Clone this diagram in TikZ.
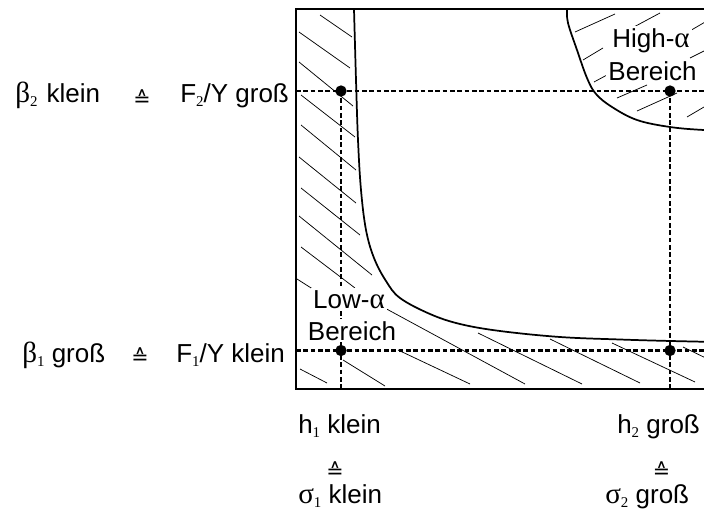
\documentclass[tikz,border=0pt]{standalone}
\usepackage{fontspec}
\setmainfont{Liberation Sans}
\newfontfamily\grk[Scale=1.12]{Liberation Serif}
\newfontfamily\djv{DejaVu Sans}
\newcommand{\gs}[1]{{\grk #1}}
\newcommand{\sbs}[1]{\raisebox{-0.35ex}{\fontsize{10}{10}\selectfont\grk #1}}
\begin{document}
\begin{tikzpicture}[x=0.75pt,y=-0.75pt,
  frame/.style={line width=1.3pt},
  curve/.style={line width=1.3pt},
  hatch/.style={line width=0.55pt},
  guide/.style={line width=1.6pt, dash pattern=on 3.5pt off 2pt},
  dot/.style={circle, fill=black, inner sep=0pt, minimum size=8.5pt},
  lbl/.style={font=\fontsize{19.5}{23}\selectfont, inner sep=0pt},
  eq/.style={font=\djv\fontsize{15.5}{15.5}\selectfont, inner sep=0pt},
  area/.style={lbl, fill=white, inner sep=1.5pt}]
\useasboundingbox (0,0) rectangle (704,518);
\clip (0,0) rectangle (704,518);
% box
\coordinate (tl) at (296,9);
\coordinate (bl) at (296,389);
\coordinate (tr) at (740,9);
\coordinate (br) at (740,389);
% guide points
\coordinate (p11) at (341,91);
\coordinate (p21) at (670,91);
\coordinate (p12) at (341,350.5);
\coordinate (p22) at (670,350.5);
\coordinate (gl1) at (296,91);
\coordinate (gr1) at (740,91);
\coordinate (gl2) at (296,350.5);
\coordinate (gr2) at (740,350.5);
\coordinate (b1) at (341,389);
\coordinate (b2) at (670,389);
% hatching, left and bottom (low-alpha)
\foreach \xa/\ya/\xb/\yb in {
  320/15/352/37, 299/32/350/68, 299/62/353/106, 301/95/355/137,
  301/125/356/170, 299/157/356/203, 301/188/360/235, 299/216/372/275,
  301/247/355/288, 297/279/330/300,
  370/300/525/384, 478/333/582/384, 550/339/640/383, 612/343/695/382,
  683/347/712/361, 398/350/470/384, 300/369/327/383, 343/360/385/386}
  \draw[hatch] (\xa,\ya) -- (\xb,\yb);
% hatching, high-alpha
\foreach \xa/\ya/\xb/\yb in {
  575/32/615/14, 583/60/603/48, 632/28/660/13, 594/82/607/75,
  617/98/647/85, 637/111/677/93, 687/117/704/107, 688/32/712/18,
  690/58/712/47}
  \draw[hatch] (\xa,\ya) -- (\xb,\yb);
% curves
\draw[curve] plot[smooth, tension=0.6] coordinates {(354,9) (356,80) (358,140) (361,190)
  (366,230) (374,258) (386,281) (400,298) (430,314) (460,324) (500,331)
  (560,337) (620,339.5) (671,341) (740,342.5)};
\draw[curve] plot[smooth, tension=0.6] coordinates {(567,9) (568,23) (577,50) (587,78)
  (596,94) (612,107) (637,120) (670,127) (704,130) (740,131)};
% guides
\draw[guide] (gl1) -- (gr1);
\draw[guide] (gl2) -- (gr2);
\draw[guide] (p11) -- (b1);
\draw[guide] (p21) -- (b2);
% frame
\draw[frame] (tr) -- (tl) -- (bl) -- (br);
% area labels
\node[area, anchor=base] (lo1) at (349,308) {Low-\gs{α}};
\node[area, anchor=base] (lo2) at (352,340) {Bereich};
\node[area, anchor=base] (hi1) at (651,47) {High-\gs{α}};
\node[area, anchor=base] (hi2) at (652.5,80) {Bereich};
% dots
\node[dot] (d11) at (p11) {};
\node[dot] (d21) at (p21) {};
\node[dot] (d12) at (p12) {};
\node[dot] (d22) at (p22) {};
% left labels
\node[lbl, anchor=base west] (bk) at (15,102) {\gs{β}\sbs{2}\hspace{0.35em}klein};
\node[eq] (e1) at (142,98) {≙};
\node[lbl, anchor=base west] (fg) at (180,102) {F\sbs{2}/Y groß};
\node[lbl, anchor=base west] (bg) at (22,362) {\gs{β}\sbs{1} groß};
\node[eq] (e2) at (140,356) {≙};
\node[lbl, anchor=base west] (fk) at (176,362) {F\sbs{1}/Y klein};
% bottom labels
\node[lbl, anchor=base west] (hk) at (298,433) {h\sbs{1} klein};
\node[eq] (e3) at (335,470) {≙};
\node[lbl, anchor=base west] (sk) at (298,503) {\gs{σ}\sbs{1} klein};
\node[lbl, anchor=base west] (hg) at (617,433) {h\sbs{2} groß};
\node[eq] (e4) at (661.5,470) {≙};
\node[lbl, anchor=base west] (sg) at (605,503) {\gs{σ}\sbs{2} groß};
\end{tikzpicture}
\end{document}
